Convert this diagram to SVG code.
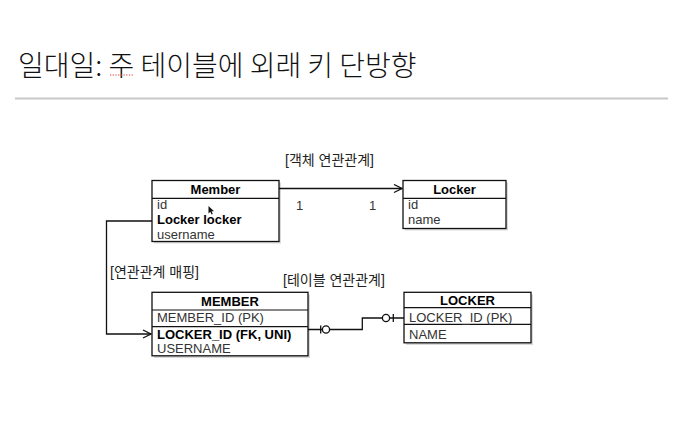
<svg xmlns="http://www.w3.org/2000/svg" width="688" height="447" viewBox="0 0 688 447">
<style>
.box{fill:#fff;stroke:#111;stroke-width:1.3}
.shadow{fill:#000;opacity:0.15}
.sep{stroke:#111;stroke-width:1.2}
.hdr{font-family:"Liberation Sans",Arial,sans-serif;font-size:13px;font-weight:bold;fill:#000;text-anchor:middle}
.row{font-family:"Liberation Sans",Arial,sans-serif;font-size:13px;fill:#333}
.rowb{font-family:"Liberation Sans",Arial,sans-serif;font-size:13px;font-weight:bold;fill:#000}
.lbl{font-family:"Liberation Sans","Noto Sans CJK KR",sans-serif;font-size:14px;fill:#222}
.conn{fill:none;stroke:#111;stroke-width:1.3}
</style>
<defs>
<marker id="open" markerWidth="10" markerHeight="10" refX="9" refY="5" orient="auto" markerUnits="userSpaceOnUse">
<path d="M1,1 L9,5 L1,9" fill="none" stroke="#111" stroke-width="1.3"/>
</marker>
</defs>
<rect width="688" height="447" fill="#fff"/>
<g id="title">
<text x="18" y="76" font-family="'Noto Sans CJK KR',sans-serif" font-size="28" font-weight="300" fill="#111">일대일: 주 테이블에 외래 키 단방향</text>
<line x1="110" y1="75" x2="133" y2="75" stroke="#d33" stroke-width="1.2" stroke-dasharray="1.2,1.5"/>
<line x1="15" y1="98.5" x2="668" y2="98.5" stroke="#c8c8c8" stroke-width="2"/>
</g>
<g id="connectors">
<line class="conn" x1="279" y1="188.5" x2="402" y2="188.5" marker-end="url(#open)"/>
<text class="row" x="296" y="210">1</text>
<text class="row" x="369" y="210">1</text>
<path class="conn" d="M152,221 H106.5 V334 H151" marker-end="url(#open)"/>
<path class="conn" d="M308,329.5 H362.3 V318 H404"/>
<line class="conn" x1="320.7" y1="325.5" x2="320.7" y2="333.5"/>
<circle cx="326" cy="329.5" r="3.6" fill="#fff" stroke="#111" stroke-width="1.3"/>
<circle cx="386" cy="318" r="3.6" fill="#fff" stroke="#111" stroke-width="1.3"/>
<line class="conn" x1="393.3" y1="314" x2="393.3" y2="322"/>
</g>
<g id="labels">
<text class="lbl" x="285" y="165">[객체 연관관계]</text>
<text class="lbl" x="110" y="277">[연관관계 매핑]</text>
<text class="lbl" x="283" y="285">[테이블 연관관계]</text>
</g>
<g id="member">
<rect class="shadow" x="154" y="182.5" width="127" height="61"/>
<rect class="box" x="152" y="180.5" width="127" height="61"/>
<line class="sep" x1="152" y1="198.3" x2="279" y2="198.3"/>
<text class="hdr" x="215.5" y="194.3">Member</text>
<text class="row" x="157" y="209">id</text>
<text class="rowb" x="157" y="224">Locker locker</text>
<text class="row" x="157" y="238.5">username</text>
<path d="M208.5,206 L208.5,213.5 L210.3,211.8 L211.6,214.6 L212.8,214 L211.6,211.3 L214,211.3 Z" fill="#111"/>
</g>
<g id="locker">
<rect class="shadow" x="405" y="182.5" width="103" height="48"/>
<rect class="box" x="403" y="180.5" width="103" height="48"/>
<line class="sep" x1="403" y1="198.3" x2="506" y2="198.3"/>
<text class="hdr" x="454.5" y="194.3">Locker</text>
<text class="row" x="408" y="209">id</text>
<text class="row" x="408" y="224">name</text>
</g>
<g id="MEMBER">
<rect class="shadow" x="154" y="294.5" width="156" height="63.5"/>
<rect class="box" x="152" y="292.3" width="156" height="63.5"/>
<line class="sep" x1="152" y1="310" x2="308" y2="310"/>
<line class="sep" x1="152" y1="326.7" x2="308" y2="326.7"/>
<text class="hdr" x="230" y="305.7">MEMBER</text>
<text class="row" x="157" y="322">MEMBER_ID (PK)</text>
<text class="rowb" x="157" y="339">LOCKER_ID (FK, UNI)</text>
<text class="row" x="157" y="352.5">USERNAME</text>
</g>
<g id="LOCKER">
<rect class="shadow" x="406" y="294.5" width="127" height="50.5"/>
<rect class="box" x="404" y="292.3" width="127" height="50.5"/>
<line class="sep" x1="404" y1="307.7" x2="531" y2="307.7"/>
<line class="sep" x1="404" y1="324.3" x2="531" y2="324.3"/>
<text class="hdr" x="467.5" y="305">LOCKER</text>
<text class="row" x="409" y="321.5">LOCKER_ID (PK)</text>
<text class="row" x="409" y="339">NAME</text>
</g>
</svg>
